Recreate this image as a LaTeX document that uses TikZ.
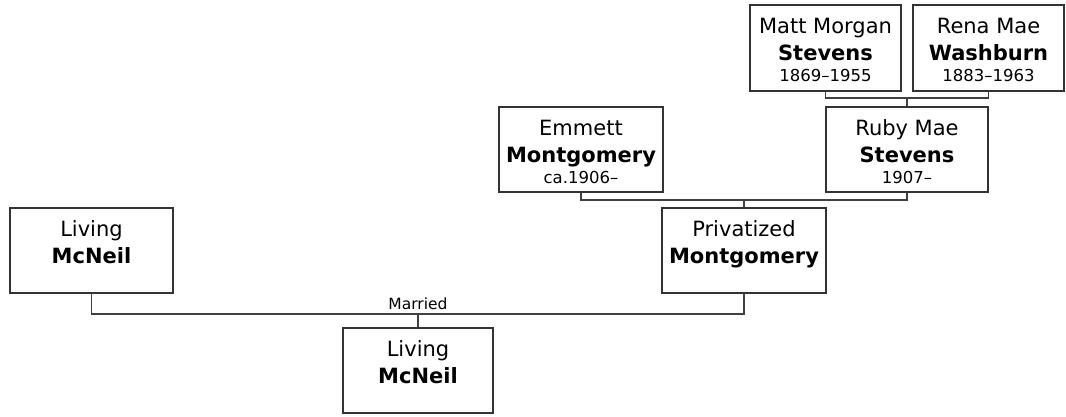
\documentclass[tikz,border=0pt]{standalone}
\usepackage{fontspec}
\setmainfont{DejaVu Sans}
\usetikzlibrary{calc}
\tikzset{
  person/.style={draw=black!80, line width=1.3pt, rectangle, inner sep=0pt, fill=white},
  conn/.style={draw=black!75, line width=1.3pt},
  nm/.style={anchor=base, font=\fontsize{21}{24}\selectfont, inner sep=0pt},
  sn/.style={anchor=base, font=\fontsize{21}{24}\selectfont\bfseries, inner sep=0pt},
  dt/.style={anchor=base, font=\fontsize{16.5}{18}\selectfont, inner sep=0pt},
  lbl/.style={font=\fontsize{15.5}{18}\selectfont, inner sep=0pt}
}
\newcommand{\pbox}[7]{% name, cx, cy, w, h, first, last
  \node[person, minimum width=#4pt, minimum height=#5pt] (#1) at (#2,#3) {};
  \node[nm] (#1-a) at ($(#1.north)+(0,29)$) {#6};
  \node[sn] (#1-b) at ($(#1.north)+(0,56)$) {#7};
}
\begin{document}
\begin{tikzpicture}[x=1pt,y=-1pt]
\useasboundingbox (0,0) rectangle (1066,416);
% persons
\pbox{mm}{825.5}{48}{151}{86}{Matt Morgan}{Stevens}
\node[dt] (mm-c) at ($(mm.north)+(0,77)$) {1869–1955};
\pbox{rm}{988.5}{48}{151}{86}{Rena Mae}{Washburn}
\node[dt] (rm-c) at ($(rm.north)+(0,77)$) {1883–1963};
\pbox{ruby}{907}{149.5}{162}{85}{Ruby Mae}{Stevens}
\node[dt] (ruby-c) at ($(ruby.north)+(0,77)$) {1907–};
\pbox{em}{581}{149.5}{164}{85}{Emmett}{Montgomery}
\node[dt] (em-c) at ($(em.north)+(0,77)$) {ca.1906–};
\pbox{pv}{744}{250.5}{164}{85}{Privatized}{Montgomery}
\pbox{la}{91.5}{250.5}{163}{85}{Living}{McNeil}
\pbox{lb}{418}{370.5}{150}{85}{Living}{McNeil}
% junction coordinates
\coordinate (j1) at (907,98);
\coordinate (j2) at (744,200);
\coordinate (j3) at (418,314);
% connectors
\draw[conn] (mm.south) |- (j1) -| (rm.south);
\draw[conn] (j1) -- (ruby.north);
\draw[conn] (em.south) |- (j2) -| (ruby.south);
\draw[conn] (j2) -- (pv.north);
\draw[conn] (la.south) |- (j3) -| (pv.south);
\draw[conn] (j3) -- (lb.north);
\node[lbl, anchor=base] (married) at (418,309) {Married};
\end{tikzpicture}
\end{document}
